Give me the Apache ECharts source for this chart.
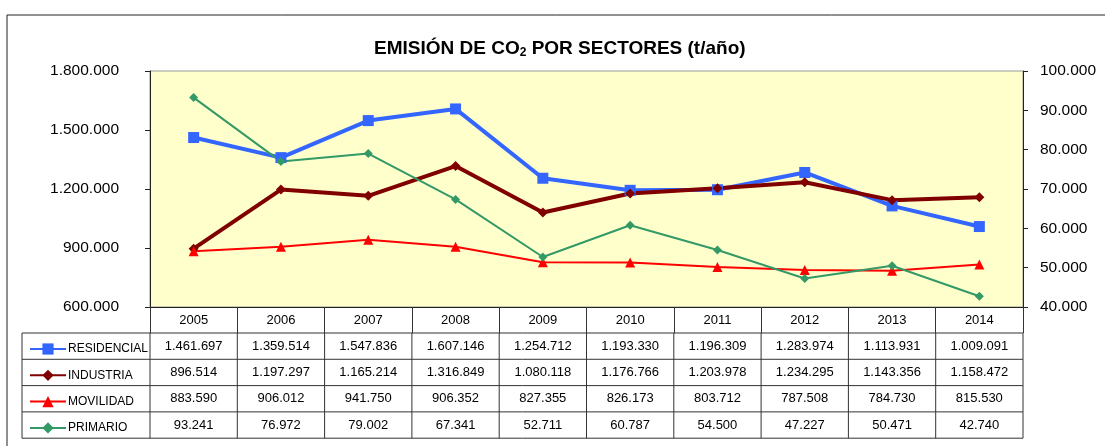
<!DOCTYPE html>
<html>
<head>
<meta charset="utf-8">
<script src="https://cdn.jsdelivr.net/npm/echarts@6/dist/echarts.min.js"></script>
<style>
  html, body { margin: 0; padding: 0; background: #fff; }
  #chart { width: 1105px; height: 446px; }
</style>
</head>
<body>
<div id="chart"></div>
<script>
// datos
var years = ['2005', '2006', '2007', '2008', '2009', '2010', '2011', '2012', '2013', '2014'];
var residencial = [1461697, 1359514, 1547836, 1607146, 1254712, 1193330, 1196309, 1283974, 1113931, 1009091];
var industria = [896514, 1197297, 1165214, 1316849, 1080118, 1176766, 1203978, 1234295, 1143356, 1158472];
var movilidad = [883590, 906012, 941750, 906352, 827355, 826173, 803712, 787508, 784730, 815530];
var primario = [93241, 76972, 79002, 67341, 52711, 60787, 54500, 47227, 50471, 42740];
var names = ['RESIDENCIAL', 'INDUSTRIA', 'MOVILIDAD', 'PRIMARIO'];

var FONT = '"Liberation Sans", Arial, sans-serif';

function fmt(v) {
  return String(v).replace(/\B(?=(\d{3})+(?!\d))/g, '.');
}

// posiciones de la tabla
var gLeft = 150, gRight = 1023, gTop = 71, gBottom = 307;
var colW = (gRight - gLeft) / years.length;
var tabLeft = 22, rowTop = 333, rowH = 26.3;

var rows = [residencial, industria, movilidad, primario];
var graphics = [];

// borde exterior
graphics.push({
  type: 'rect', shape: { x: 7, y: 15, width: 1110, height: 450 },
  style: { fill: 'none', stroke: '#222', lineWidth: 1 }, z: 0
});

// lineas horizontales
for (var r = 0; r <= rows.length; r++) {
  graphics.push({
    type: 'line',
    shape: { x1: tabLeft, y1: rowTop + r * rowH, x2: gRight, y2: rowTop + r * rowH },
    style: { stroke: '#333', lineWidth: 1 }
  });
}
// lineas verticales
graphics.push({
  type: 'line', shape: { x1: tabLeft, y1: rowTop, x2: tabLeft, y2: rowTop + rows.length * rowH },
  style: { stroke: '#333', lineWidth: 1 }
});
for (var c = 0; c <= years.length; c++) {
  graphics.push({
    type: 'line',
    shape: { x1: gLeft + c * colW, y1: rowTop, x2: gLeft + c * colW, y2: rowTop + rows.length * rowH },
    style: { stroke: '#333', lineWidth: 1 }
  });
}
// valores
rows.forEach(function (arr, r) {
  arr.forEach(function (v, c) {
    graphics.push({
      type: 'text',
      x: gLeft + (c + 0.5) * colW,
      y: rowTop + (r + 0.5) * rowH,
      style: {
        text: fmt(v), fill: '#000', font: '13px ' + FONT,
        align: 'center', verticalAlign: 'middle'
      }
    });
  });
});

var chart = echarts.init(document.getElementById('chart'));

var option = {
  backgroundColor: '#fff',
  animation: false,
  title: {
    text: '{a|EMISIÓN DE CO}{b|2}{a| POR SECTORES (t/año)}',
    left: 369,
    top: 33,
    textStyle: {
      rich: {
        a: { fontFamily: FONT, fontWeight: 'bold', fontSize: 19, color: '#000' },
        b: { fontFamily: FONT, fontWeight: 'bold', fontSize: 12, color: '#000', verticalAlign: 'bottom', padding: [9, 0, 0, 0] }
      }
    }
  },
  legend: {
    orient: 'vertical',
    left: 24,
    top: rowTop + 4,
    itemWidth: 36,
    itemHeight: 14,
    itemGap: rowH - 14,
    data: names,
    textStyle: { fontFamily: FONT, fontSize: 12, color: '#000', lineHeight: 14, padding: [0, 0, 0, -3] }
  },
  grid: {
    left: gLeft, right: 1105 - gRight, top: gTop, bottom: 446 - gBottom,
    show: true, backgroundColor: '#FFFFCC', borderColor: '#999', borderWidth: 1
  },
  xAxis: {
    type: 'category',
    data: years,
    boundaryGap: true,
    axisLine: { lineStyle: { color: '#222', width: 1 } },
    axisTick: { show: true, length: rowTop - gBottom, lineStyle: { color: '#333' } },
    axisLabel: { color: '#000', fontFamily: FONT, fontSize: 13, margin: 7 }
  },
  yAxis: [
    {
      type: 'value', min: 600000, max: 1800000, interval: 300000,
      axisLine: { show: true, lineStyle: { color: '#222' } },
      axisTick: { show: true, length: 5, lineStyle: { color: '#222' } },
      splitLine: { show: false },
      axisLabel: { color: '#000', fontFamily: FONT, fontSize: 15.5, margin: 31, formatter: fmt }
    },
    {
      type: 'value', min: 40000, max: 100000, interval: 10000,
      axisLine: { show: true, lineStyle: { color: '#222' } },
      axisTick: { show: true, length: 5, lineStyle: { color: '#222' } },
      splitLine: { show: false },
      axisLabel: { color: '#000', fontFamily: FONT, fontSize: 15.5, margin: 17, formatter: fmt }
    }
  ],
  graphic: graphics,
  series: [
    {
      name: 'RESIDENCIAL', type: 'line', data: residencial, yAxisIndex: 0,
      symbol: 'rect', symbolSize: 11,
      lineStyle: { color: '#3366FF', width: 4 },
      itemStyle: { color: '#3366FF' }
    },
    {
      name: 'INDUSTRIA', type: 'line', data: industria, yAxisIndex: 0,
      symbol: 'diamond', symbolSize: 10,
      lineStyle: { color: '#800000', width: 4 },
      itemStyle: { color: '#800000' }
    },
    {
      name: 'MOVILIDAD', type: 'line', data: movilidad, yAxisIndex: 0,
      symbol: 'triangle', symbolSize: 10,
      lineStyle: { color: '#FF0000', width: 2 },
      itemStyle: { color: '#FF0000' }
    },
    {
      name: 'PRIMARIO', type: 'line', data: primario, yAxisIndex: 1,
      symbol: 'diamond', symbolSize: 9,
      lineStyle: { color: '#339966', width: 2 },
      itemStyle: { color: '#339966' }
    }
  ]
};

chart.setOption(option);
</script>
</body>
</html>
